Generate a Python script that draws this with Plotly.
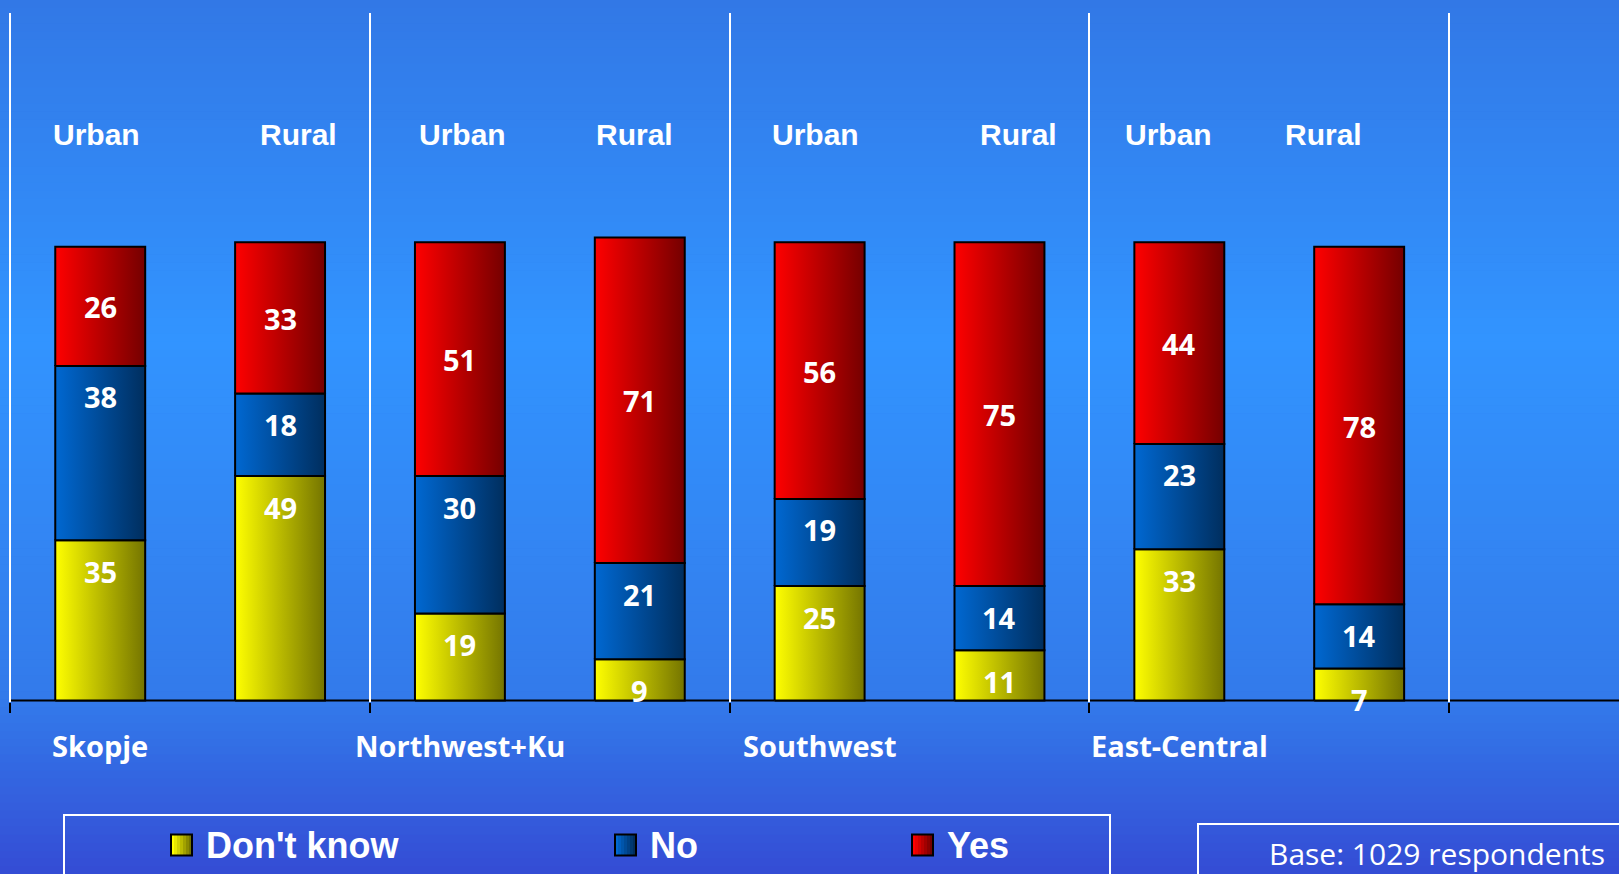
import plotly.graph_objects as go

# ---------------- data ----------------
regions = ["Skopje", "Northwest+Ku", "Southwest", "East-Central"]
areas = ["Urban", "Rural"]
dont_know = [35, 49, 19, 9, 25, 11, 33, 7]
no = [38, 18, 30, 21, 19, 14, 23, 14]
yes = [26, 33, 51, 71, 56, 75, 44, 78]
series_names = ["Don't know", "No", "Yes"]
base_note = "Base: 1029 respondents"

# ---------------- layout constants ----------------
W, H = 1619, 874
M_T, M_B = 13, 172
PLOT_H = H - M_T - M_B
Y_MIN, Y_MAX = -0.3, 150
UNIT_PX = 179.85
X_MIN = -0.5 - 10.3 / UNIT_PX
X_MAX = X_MIN + W / UNIT_PX
BAR_W = 0.5
LABEL_DROP_PX = 30.5
TEXT_NUDGE_PX = 0.5
HEADER_XSHIFT = [-4, 18, 3, -5, -4, 19, -11, -36]


def px_x(xpx):
    return xpx / W


def px_y(ypx):
    return (H - M_B - ypx) / PLOT_H


gradients = {
    "Don't know": ("rgb(255,255,0)", "rgb(116,116,0)"),
    "No": ("rgb(0,104,210)", "rgb(0,46,94)"),
    "Yes": ("rgb(255,0,0)", "rgb(116,0,0)"),
}

fig = go.Figure()
annotations = []

n_bars = len(dont_know)
positions = list(range(n_bars))
values = [dont_know, no, yes]

bases = [0] * n_bars
for name, vals in zip(series_names, values):
    c0, c1 = gradients[name]
    for i, v in enumerate(vals):
        b = bases[i]
        t = b + v
        x0, x1 = positions[i] - BAR_W / 2, positions[i] + BAR_W / 2
        fig.add_trace(go.Scatter(
            x=[x0, x1, x1, x0, x0], y=[b, b, t, t, b],
            mode="lines", fill="toself",
            fillgradient=dict(type="horizontal", colorscale=[[0, c0], [1, c1]]),
            line=dict(color="black", width=2),
            hoverinfo="skip", showlegend=False,
        ))
        if name == "Yes":
            ly, shift = b + v / 2, -TEXT_NUDGE_PX
        else:
            ly, shift = t, -(LABEL_DROP_PX + TEXT_NUDGE_PX)
        annotations.append(dict(text=str(v), xref="x", yref="y", x=positions[i], y=ly,
                                yshift=shift, xanchor="center", yanchor="middle",
                                showarrow=False,
                                font=dict(family="Open Sans", size=29, color="white",
                                          weight="bold")))
        bases[i] = t

shapes = []

# background vertical gradient
stops = [(0, (50, 120, 230)), (340, (50, 148, 255)), (700, (51, 122, 234)), (874, (52, 76, 212))]


def bg_color(y):
    for (ya, ca), (yb, cb) in zip(stops[:-1], stops[1:]):
        if ya <= y <= yb:
            f = (y - ya) / (yb - ya)
            return "rgb(%d,%d,%d)" % tuple(round(a + (bb - a) * f) for a, bb in zip(ca, cb))
    return "rgb(%d,%d,%d)" % stops[-1][1]


N_BANDS = 110
for k in range(N_BANDS):
    y0 = k * H / N_BANDS
    y1 = (k + 1) * H / N_BANDS
    shapes.append(dict(type="rect", xref="paper", yref="paper",
                       x0=-0.01, x1=1.01, y0=px_y(y1 + 0.6), y1=px_y(y0),
                       fillcolor=bg_color((y0 + y1) / 2), line=dict(width=0),
                       layer="below"))

# axis baseline
shapes.append(dict(type="line", xref="x", yref="y", x0=-0.5, x1=X_MAX, y0=0, y1=0,
                   line=dict(color="black", width=2), layer="below"))

# legend box
shapes.append(dict(type="rect", xref="paper", yref="paper",
                   x0=px_x(64), x1=px_x(1110), y0=px_y(890), y1=px_y(815),
                   line=dict(color="white", width=2), fillcolor="rgba(0,0,0,0)"))
# base box
shapes.append(dict(type="rect", xref="paper", yref="paper",
                   x0=px_x(1198), x1=px_x(1640), y0=px_y(890), y1=px_y(824),
                   line=dict(color="white", width=2), fillcolor="rgba(0,0,0,0)"))

legend_items = [(171, 204), (615, 648), (912, 945)]
SQ = 21
LEG_Y = 845


def mix(a, b, f):
    pa = [int(s) for s in a[4:-1].split(",")]
    pb = [int(s) for s in b[4:-1].split(",")]
    return "rgb(%d,%d,%d)" % tuple(round(p + (q - p) * f) for p, q in zip(pa, pb))


for name, (sx, tx) in zip(series_names, legend_items):
    c0, c1 = gradients[name]
    n_strips = 7
    for s in range(n_strips):
        shapes.append(dict(type="rect", xref="paper", yref="paper",
                           x0=px_x(sx + s * SQ / n_strips), x1=px_x(sx + (s + 1) * SQ / n_strips),
                           y0=px_y(LEG_Y + SQ / 2), y1=px_y(LEG_Y - SQ / 2),
                           fillcolor=mix(c0, c1, s / (n_strips - 1)), line=dict(width=0)))
    shapes.append(dict(type="rect", xref="paper", yref="paper",
                       x0=px_x(sx), x1=px_x(sx + SQ),
                       y0=px_y(LEG_Y + SQ / 2), y1=px_y(LEG_Y - SQ / 2),
                       line=dict(color="black", width=2), fillcolor="rgba(0,0,0,0)"))
    annotations.append(dict(text=name, xref="paper", yref="paper", x=px_x(tx), y=px_y(LEG_Y),
                            xanchor="left", yanchor="middle", showarrow=False,
                            font=dict(family="Liberation Sans", size=36, color="white", weight="bold")))

annotations.append(dict(text=base_note, xref="paper", yref="paper", x=px_x(1267), y=px_y(853.5),
                        xanchor="left", yanchor="middle", showarrow=False,
                        font=dict(family="Open Sans", size=30, color="white")))

# Urban / Rural headers
for i in range(n_bars):
    annotations.append(dict(text=areas[i % 2], xref="x", yref="paper", x=positions[i], y=px_y(134),
                            xshift=HEADER_XSHIFT[i],
                            xanchor="center", yanchor="middle", showarrow=False,
                            font=dict(family="Liberation Sans", size=30, color="white", weight="bold")))

# region labels under urban bars
for g, reg in enumerate(regions):
    annotations.append(dict(text=reg, xref="x", yref="paper", x=positions[2 * g], y=px_y(745),
                            xanchor="center", yanchor="middle", showarrow=False,
                            font=dict(family="Open Sans", size=29, color="white", weight="bold")))

separators = [2 * g - 0.5 for g in range(len(regions) + 1)]

fig.update_layout(
    width=W, height=H,
    margin=dict(l=0, r=0, t=M_T, b=M_B, pad=0),
    paper_bgcolor="rgb(51,120,232)",
    plot_bgcolor="rgba(0,0,0,0)",
    showlegend=False,
    shapes=shapes,
    annotations=annotations,
    xaxis=dict(range=[X_MIN, X_MAX], tickvals=separators, showticklabels=False,
               showgrid=True, gridcolor="white", gridwidth=2, zeroline=False,
               showline=False, ticks="outside", ticklen=10, tickwidth=2, tickcolor="black",
               fixedrange=True),
    yaxis=dict(range=[Y_MIN, Y_MAX], visible=False, showgrid=False, zeroline=False,
               fixedrange=True),
)

fig.write_html("out.html", config={"displayModeBar": False},
               post_script="document.body.style.margin='0';document.body.style.overflow='hidden';")
